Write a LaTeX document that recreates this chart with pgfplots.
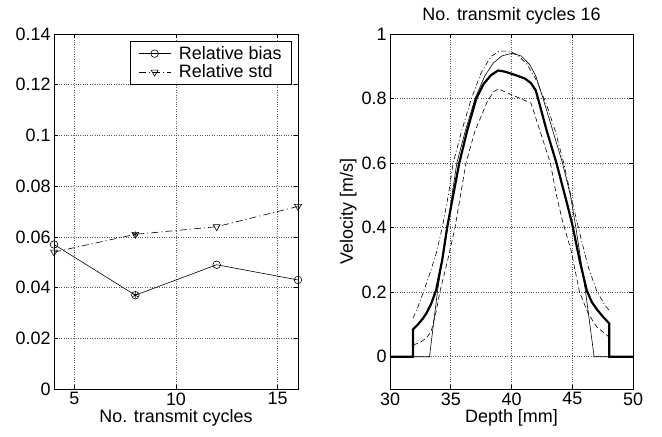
\documentclass[border=0pt]{standalone}
\usepackage{fontspec}
\setmainfont{Liberation Sans}
\usepackage{pgfplots}
\pgfplotsset{compat=1.18}
\begin{document}
\begin{tikzpicture}
\path[use as bounding box] (0,0) rectangle (662bp,437bp);
\pgfplotsset{
  mystyle/.style={
    scale only axis,
    axis line style={line width=0.9bp},
    tick align=inside,
    major tick length=4bp,
    tick style={line width=0.6bp, black},
    grid=major,
    major grid style={dotted, black!65, line width=0.6bp},
    tick label style={font=\fontsize{18}{20}\selectfont},
    label style={font=\fontsize{18}{20}\selectfont},
    title style={font=\fontsize{18}{20}\selectfont},
    /pgf/number format/assume math mode=true,
  }
}
\begin{axis}[mystyle,
  at={(54bp,48bp)}, anchor=south west,
  width=244bp, height=355bp,
  xmin=4, xmax=16, ymin=0, ymax=0.14,
  xtick={5,10,15}, xticklabels={5,10,15},
  ytick={0,0.02,0.04,0.06,0.08,0.1,0.12,0.14},
  yticklabels={0,0.02,0.04,0.06,0.08,0.1,0.12,0.14},
  xlabel={No. transmit cycles},
  xlabel style={yshift=3bp},
  legend style={at={(1,1)}, anchor=north east, xshift=-6bp, yshift=-7bp,
    font=\fontsize{18}{20}\selectfont, draw=black, fill=white, line width=0.8bp,
    inner xsep=8bp, inner ysep=3bp, row sep=0bp, cells={anchor=west},
    /tikz/every odd column/.append style={column sep=6bp}},
  legend image code/.code={\draw[mark repeat=2,mark phase=2,#1] plot coordinates {(0bp,0bp)(16bp,0bp)(32bp,0bp)};},
  legend image post style={line width=0.6bp},
]
\addplot[black, line width=0.6bp, mark=o, mark size=3.8bp, mark options={solid, line width=0.6bp}]
  coordinates {(4,0.057)(8,0.037)(12,0.049)(16,0.043)};
\addlegendentry{Relative bias}
\addplot[black, line width=0.6bp, dash pattern=on 7bp off 3bp on 1.2bp off 3bp,
  mark=triangle, mark size=4bp, mark options={solid, rotate=180, line width=0.6bp}]
  coordinates {(4,0.054)(8,0.061)(12,0.064)(16,0.072)};
\addlegendentry{Relative std}
\addplot[black, only marks, mark=asterisk, mark size=3bp, mark options={line width=0.6bp}, forget plot]
  coordinates {(8,0.037)(8,0.061)};
\end{axis}

\begin{axis}[mystyle,
  at={(390bp,48bp)}, anchor=south west,
  width=243bp, height=355bp,
  xmin=30, xmax=50, ymin=-0.1, ymax=1,
  xtick={30,35,40,45,50}, xticklabels={30,35,40,45,50},
  ytick={0,0.2,0.4,0.6,0.8,1},
  yticklabels={0,0.2,0.4,0.6,0.8,1},
  xlabel={Depth [mm]},
  xlabel style={yshift=3bp},
  ylabel={Velocity [m/s]},
  ylabel style={yshift=-2bp},
  title={No. transmit cycles 16},
  title style={yshift=0bp},
]
\addplot[black, line width=0.6bp] coordinates {
(30,0)(33.25,0)(33.9,0.2)(34.3,0.3)(34.75,0.4)(35.1,0.5)(35.5,0.6)(36.2,0.7)(37.0,0.8)
(37.8,0.87)(38.5,0.91)(39.2,0.932)(40.0,0.94)(40.8,0.932)(41.5,0.905)(42.0,0.87)
(42.6,0.8)(43.4,0.7)(44.2,0.6)(44.85,0.5)(45.3,0.4)(45.7,0.3)(46.1,0.2)(46.8,0)(50,0)};
\addplot[black, line width=0.6bp, dash pattern=on 5bp off 2.5bp on 1bp off 2.5bp] coordinates {
(31.9,0.12)(32.3,0.155)(32.75,0.2)(33.3,0.26)(33.8,0.32)(34.3,0.4)(34.8,0.5)(35.2,0.6)
(35.9,0.7)(36.7,0.8)(37.5,0.88)(38.3,0.93)(39.0,0.947)(39.8,0.947)(40.5,0.935)
(41.3,0.905)(42.0,0.86)(42.8,0.79)(43.6,0.7)(44.3,0.6)(45.0,0.48)(45.7,0.37)
(46.3,0.28)(47.0,0.205)(47.6,0.165)(48.1,0.14)};
\addplot[black, line width=0.6bp, dash pattern=on 5bp off 3bp] coordinates {
(31.9,0.036)(32.5,0.045)(33.0,0.058)(33.4,0.08)(33.8,0.14)(34.1,0.2)(34.75,0.3)
(35.35,0.4)(35.8,0.5)(36.25,0.6)(37.0,0.7)(38.0,0.79)(38.5,0.82)(38.9,0.83)
(41.6,0.786)(42.0,0.74)(42.6,0.67)(43.2,0.6)(43.7,0.5)(44.2,0.42)(44.9,0.33)
(45.6,0.2)(46.3,0.135)(47.0,0.093)(48.0,0.062)};
\addplot[black, line width=2.2bp] coordinates {
(30,0)(31.9,0)(31.9,0.085)(32.3,0.1)(32.7,0.118)(33.0,0.135)(33.4,0.165)(33.8,0.207)
(34.3,0.3)(34.7,0.4)(35.2,0.5)(35.7,0.6)(36.35,0.7)(37.1,0.8)(37.7,0.845)(38.3,0.872)
(38.9,0.887)(39.5,0.883)(40.3,0.873)(41.1,0.862)(41.6,0.848)(42.0,0.825)(42.4,0.77)
(42.9,0.7)(43.7,0.6)(44.5,0.485)(45.0,0.41)(45.6,0.3)(46.2,0.205)(46.6,0.17)
(47.0,0.148)(47.5,0.125)(48.05,0.103)(48.05,0)(50,0)};
\end{axis}
\end{tikzpicture}
\end{document}
